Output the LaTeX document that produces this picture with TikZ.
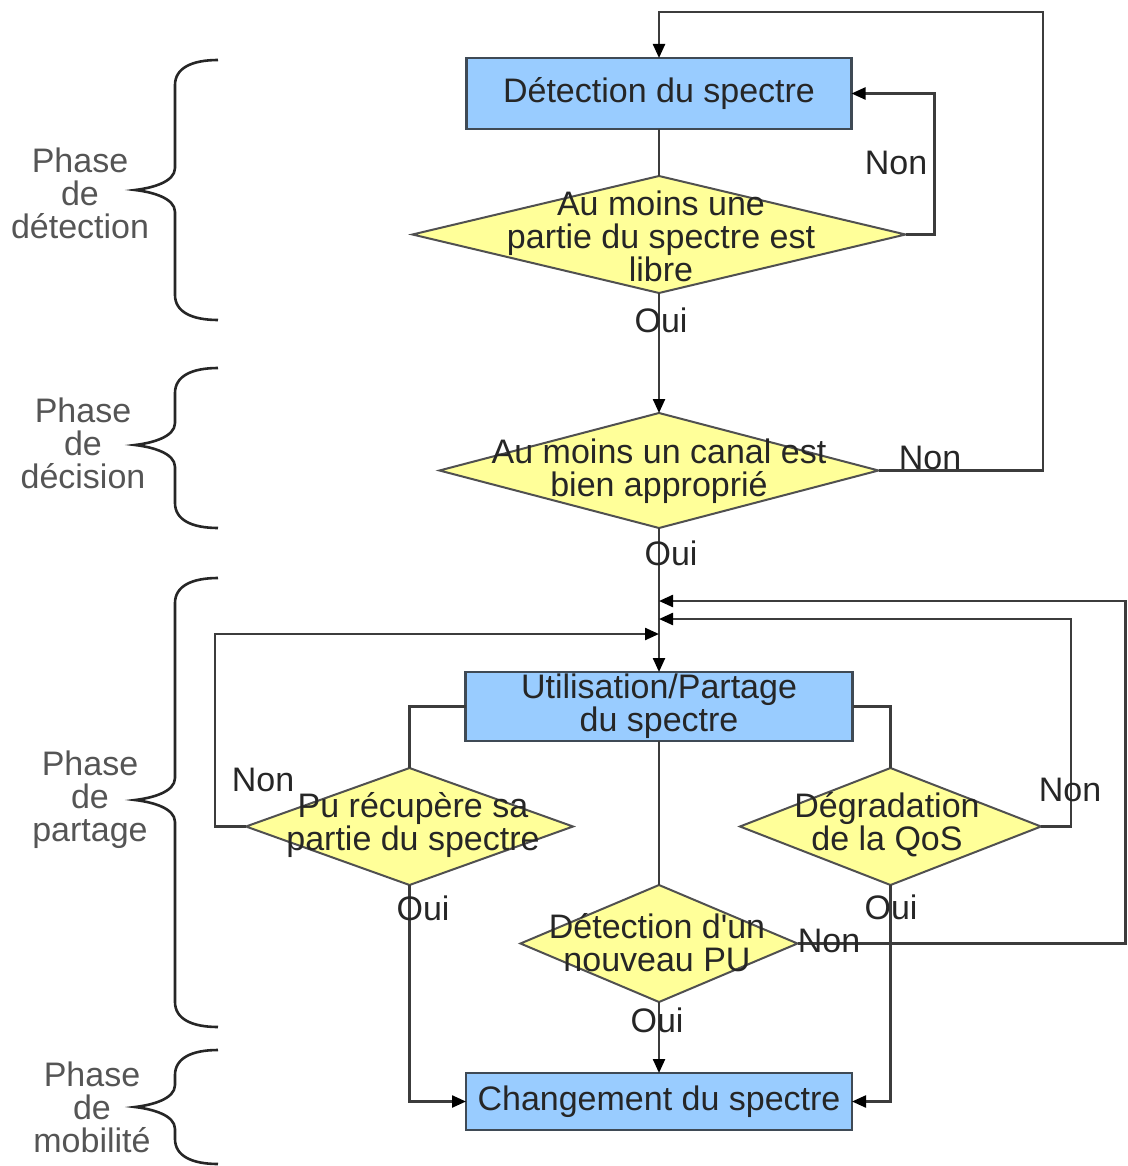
\documentclass[tikz,border=0pt]{standalone}
\usepackage{fontspec}
\setmainfont{Liberation Sans}
\usetikzlibrary{shapes.geometric,arrows.meta}

\definecolor{boxblue}{HTML}{99CCFF}
\definecolor{boxline}{HTML}{3F4A55}
\definecolor{diafill}{HTML}{FFFF99}
\definecolor{dialine}{HTML}{505050}
\definecolor{wirecol}{HTML}{3C3C3C}
\definecolor{ink}{HTML}{262626}
\definecolor{phaseink}{HTML}{555555}

% curly brace opening to the right: #1 top y, #2 tip y, #3 bottom y
\newcommand\phasebrace[3]{%
  \draw[bracepath] (218,#1) .. controls (192,#1) and (175,#1+8) .. (175,#1+25)
    -- (175,#2-22) .. controls (175,#2-8) and (152,#2-2) .. (135,#2)
    .. controls (152,#2+2) and (175,#2+8) .. (175,#2+22)
    -- (175,#3-25) .. controls (175,#3-8) and (192,#3) .. (218,#3);}

\begin{document}
\begin{tikzpicture}[x=1pt,y=-1pt,
  font=\fontsize{34}{33}\selectfont,
  procbox/.style={draw=boxline,fill=boxblue,line width=2.5pt,inner sep=0pt,
    outer sep=0pt,text=ink,align=center},
  decision/.style={diamond,draw=dialine,fill=diafill,line width=2pt,
    inner sep=0pt,outer sep=0pt},
  dtext/.style={align=center,text=ink,inner sep=0pt},
  tag/.style={text=ink,inner sep=0pt},
  wire/.style={draw=wirecol,line width=2.3pt},
  flow/.style={wire,-{Triangle[length=14pt,width=12pt,color=black]}},
  bracepath/.style={draw=black!85,line width=2.6pt},
  phase/.style={align=center,text=phaseink,inner sep=0pt}]

\useasboundingbox (0,0) rectangle (1127,1166);

% process boxes and decisions
\node[procbox,minimum width=385,minimum height=71] (b1) at (659,93.5) {Détection du spectre};
\node[decision,minimum width=493,minimum height=117] (d1) at (659,234.5) {};
\node[decision,minimum width=439,minimum height=115] (d2) at (659,470.5) {};
\node[procbox,minimum width=387,minimum height=69] (b2) at (659,706.5) {Utilisation/Partage\\du spectre};
\node[decision,minimum width=327,minimum height=117] (d3) at (409.5,826.5) {};
\node[decision,minimum width=301,minimum height=117] (d4) at (890.5,826.5) {};
\node[decision,minimum width=277,minimum height=117] (d5) at (659,943.5) {};
\node[procbox,minimum width=386,minimum height=57] (b3) at (659,1101.5) {Changement du spectre};

% merge points on the line into the sharing box
\coordinate (m1) at (659,601);
\coordinate (m2) at (659,619);
\coordinate (m3) at (659,634);
\coordinate (topc) at (1043,12);

% connectors
\draw[wire] (b1.south) -- (d1.north);
\draw[flow] (d1.east) -- ++(29,0) |- (b1.east);
\draw[flow] (d1.south) -- (d2.north);
\draw[flow] (d2.east) -| (topc) -| (b1.north);
\draw[flow] (d2.south) -- (b2.north);
\draw[wire] (b2.west) -| (d3.north);
\draw[wire] (b2.east) -| (d4.north);
\draw[wire] (b2.south) -- (d5.north);
\draw[flow] (d3.west) -- ++(-31,0) |- (m3);
\draw[flow] (d4.east) -- ++(30,0) |- (m2);
\draw[flow] (d5.east) -- ++(328,0) |- (m1);
\draw[flow] (d3.south) |- (b3.west);
\draw[flow] (d4.south) |- (b3.east);
\draw[flow] (d5.south) -- (b3.north);

% decision texts
\node[dtext] (t1) at (661,236) {Au moins une\\partie du spectre est\\libre};
\node[dtext] (t2) at (659,471) {Au moins un canal est\\bien approprié};
\node[dtext] (t3) at (413,825) {Pu récupère sa\\partie du spectre};
\node[dtext] (t4) at (887,825) {Dégradation\\de la QoS};
\node[dtext] (t5) at (657,943) {Détection d\textquotesingle un\\nouveau PU};

% branch labels
\node[tag] (n1) at (896,163) {Non};
\node[tag] (o1) at (661,320) {Oui};
\node[tag] (n2) at (930,458) {Non};
\node[tag] (o2) at (671,553) {Oui};
\node[tag] (n3) at (263,780) {Non};
\node[tag] (o3) at (423,908) {Oui};
\node[tag] (n4) at (1070,790) {Non};
\node[tag] (o4) at (891,907) {Oui};
\node[tag] (n5) at (829,941) {Non};
\node[tag] (o5) at (657,1020) {Oui};

% phases
\phasebrace{60}{190}{320}
\phasebrace{368}{445}{528}
\phasebrace{578}{800}{1027}
\phasebrace{1050}{1107}{1164}
\node[phase] (p1) at (80,193) {Phase\\de\\détection};
\node[phase] (p2) at (83,443) {Phase\\de\\décision};
\node[phase] (p3) at (90,800) {Phase\\de\\partage};
\node[phase] (p4) at (92,1107) {Phase\\de\\mobilité};
\end{tikzpicture}
\end{document}
